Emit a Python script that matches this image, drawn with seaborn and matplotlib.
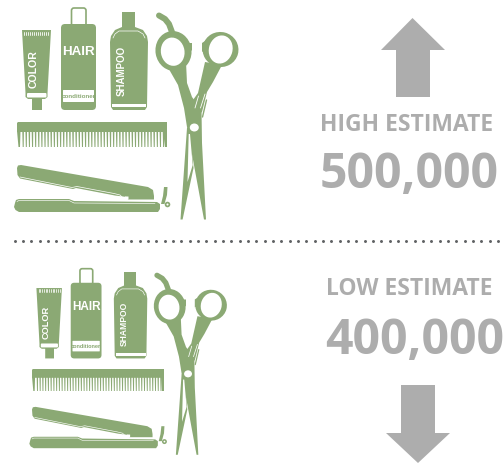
import numpy as np
import pandas as pd
import matplotlib
matplotlib.use("Agg")
import matplotlib.pyplot as plt
from matplotlib.patches import Polygon, Ellipse, FancyBboxPatch
import seaborn as sns

# ------------------------------------------
#                 DATA
# ------------------------------------------
estimate_labels = ["HIGH ESTIMATE", "LOW ESTIMATE"]
estimate_values = [500000, 400000]

GREEN = "#8ba974"
GRAY = "#adadad"
DOT = "#5f6163"

sns.set_theme(style="white")
plt.rcParams["font.family"] = ["Open Sans", "DejaVu Sans"]

fig, ax = plt.subplots(figsize=(5.03, 4.63), dpi=100)
ax.set_position([0, 0, 1, 1])
ax.set_xlim(0, 503)
ax.set_ylim(463, 0)
ax.axis("off")


# ------------------------------------------
#        ICONS (top set pixel outlines)
# ------------------------------------------
def draw_tools(ox, oy, s):
    def P(x, y):
        return (ox + (x - 17) * s, oy + (y - 122) * s)

    def poly(pts, color=GREEN, z=2):
        ax.add_patch(Polygon([P(*p) for p in pts], closed=True, fc=color, ec="none", zorder=z))

    def line(pts, color=GREEN, lw=1.0, z=3):
        q = [P(*p) for p in pts]
        ax.plot([a[0] for a in q], [a[1] for a in q], color=color, lw=lw * s,
                solid_capstyle="round", solid_joinstyle="round", zorder=z)

    def rbox(x0, y0, x1, y1, r, fc=GREEN, ec="none", lw=0, z=2):
        a = P(x0, y0)
        ax.add_patch(FancyBboxPatch((a[0] + r * s, a[1] + r * s), (x1 - x0 - 2 * r) * s, (y1 - y0 - 2 * r) * s,
                                    boxstyle=f"round,pad={r * s}", fc=fc, ec=ec, lw=lw, zorder=z))

    def ell(cx, cy, rx, ry, angle=0, color=GREEN, z=2):
        ax.add_patch(Ellipse(P(cx, cy), 2 * rx * s, 2 * ry * s, angle=angle, fc=color, ec="none", zorder=z))

    def label(x, y, txt, size, rot=0, color="white", weight="bold"):
        a = P(x, y)
        ax.text(a[0], a[1], txt, color=color, fontsize=size * s, rotation=rot, ha="center", va="center",
                family=["Liberation Sans", "DejaVu Sans"], fontweight=weight, zorder=5)

    # colour tube
    poly([(22, 30), (51, 30), (47.5, 93), (47.5, 97), (45, 99), (42, 99), (42, 110), (32, 110), (32, 99),
          (28, 99), (25.5, 97), (25.5, 93)])
    for x in np.arange(24.5, 50, 2):
        line([(x, 31.5), (x, 35)], color="white", lw=0.6)
    rbox(27, 93, 46.5, 97.5, 1, fc="white", z=3)
    label(33.5, 69, "COLOR", 7.6, rot=90)

    # conditioner bottle
    rbox(71.5, 8, 86, 26, 2.5, fc="white", ec=GREEN, lw=1.2, z=1)
    rbox(61, 24, 96, 110, 4)
    rbox(63, 90, 94, 102, 0.5, fc="white", z=3)
    label(78.5, 52, "HAIR", 9.6)
    label(78.5, 96, "conditioner", 4.5, color=GREEN)

    # shampoo bottle
    poly([(122, 12), (135, 12), (135, 28), (122, 28)])
    poly([(122, 27), (135, 27), (143, 30), (147, 36), (148, 42), (147, 107), (145, 110), (113, 110), (111, 107),
          (110, 42), (111, 36), (115, 30)])
    line([(113, 38), (115, 34), (119, 31), (138, 31), (143, 34), (145, 38)], color="white", lw=0.5)
    poly([(112, 103.5), (146, 103.5), (146, 107), (112, 107)], color="white", z=3)
    label(121.5, 71, "SHAMPOO", 7.0, rot=90)

    # comb
    poly([(17, 123), (18, 122), (167, 122), (167, 132), (17, 132)])
    poly([(17, 131), (20.5, 131), (20, 147), (18.5, 147)])
    poly([(163.5, 131), (167, 131), (167, 147), (165, 147)])
    for x in np.arange(22.3, 163, 3.12):
        poly([(x, 131), (x + 1.6, 131), (x + 1.4, 147), (x + 0.4, 147)])

    # flat iron, upper arm
    poly([(17, 168), (18, 165.5), (21, 165), (148, 187), (153, 190), (154, 196), (154, 199.5), (128, 199.5),
          (127, 197), (115, 195.5), (76, 188), (73, 189), (20, 178.5), (17.5, 175)])
    line([(20, 177), (72, 187.5), (77, 186.5), (114, 193.5), (120, 195), (124, 199)], color="white", lw=0.5)
    rbox(125, 196.5, 128.5, 199.5, 0.2, fc="white", z=3)

    # flat iron, lower plate
    poly([(15, 203), (16, 200), (19, 199), (69, 199), (74, 201), (157, 202), (160, 204), (160, 209), (158, 212),
          (19, 212), (15.5, 210), (14, 207)])
    line([(17, 201.5), (19, 200.5), (69, 200.5), (74, 203), (155, 203.5)], color="white", lw=0.45)
    poly([(164, 187), (167.5, 187), (167, 195), (164.5, 204), (161, 204), (163, 196)])
    ell(167.5, 204.5, 2.8, 2.8)
    ell(167.5, 204.5, 1.0, 1.0, color="white", z=3)

    # scissors, ring handles
    line([(159, 15.5), (165, 19), (169, 24), (172, 32)], lw=4.3)
    ell(173.5, 51, 18, 20, angle=-10)
    ell(172.7, 51.7, 11.8, 14.2, angle=-10, color="white", z=3)
    ell(220.5, 49.5, 18, 17.5, angle=15)
    ell(220.7, 49.5, 11.8, 14.2, angle=15, color="white", z=3)
    poly([(189, 43), (192, 43), (192, 50), (189, 53)])
    poly([(202, 43), (205, 41), (205, 50), (202, 52)])

    # scissors, main blade and its arm
    poly([(166, 64), (186, 62), (187, 83), (192, 97), (201.5, 110), (202, 143), (206, 219.5), (204, 219.5),
          (187, 127), (184, 108), (178, 85)])
    # other blade and arm
    poly([(205, 62), (222, 65), (213, 82), (207, 92), (202, 112), (196, 116), (193, 100), (198, 93)])
    line([(198.5, 96), (195, 108)], color="white", lw=0.6)
    line([(205, 94), (200.5, 108)], color="white", lw=0.6)
    line([(206.5, 100), (202.5, 117)], lw=1.0)
    poly([(187, 128), (190, 128), (193.5, 168), (182.6, 219.5), (180.5, 219.5)])
    poly([(188.7, 134), (190, 134), (192.7, 165), (187.5, 182)], color="white", z=3)
    ell(194.3, 127.5, 4.5, 4, color="white", z=3)


draw_tools(17, 122, 1.0)
draw_tools(32, 369, 0.88)

# ------------------------------------------
#         DOTTED DIVIDER
# ------------------------------------------
divider = pd.DataFrame({"x": np.arange(14.7, 503, 8.33)})
divider["y"] = 241
sns.scatterplot(data=divider, x="x", y="y", ax=ax, s=4.5, color=DOT, linewidth=0, legend=False)
ax.set_xlim(0, 503)
ax.set_ylim(463, 0)

# ------------------------------------------
#         ARROWS AND ESTIMATES
# ------------------------------------------
ax.add_patch(Polygon([(412.5, 18), (445, 50), (430, 50), (430, 97), (396, 97), (396, 50), (381, 50)],
                     closed=True, fc=GRAY, ec="none"))
ax.add_patch(Polygon([(401, 385), (435, 385), (435, 433), (450, 433), (418, 463), (386, 433), (401, 433)],
                     closed=True, fc=GRAY, ec="none"))

ax.text(406.5, 131, estimate_labels[0], color=GRAY, fontsize=16.5, fontweight="bold", ha="center", va="baseline")
ax.text(409, 188.5, f"{estimate_values[0]:,}", color=GRAY, fontsize=34.7, fontweight="bold", ha="center", va="baseline")
ax.text(409.5, 295, estimate_labels[1], color=GRAY, fontsize=16.5, fontweight="bold", ha="center", va="baseline")
ax.text(415, 354, f"{estimate_values[1]:,}", color=GRAY, fontsize=34.7, fontweight="bold", ha="center", va="baseline")

sns.despine(ax=ax, left=True, bottom=True)
fig.savefig("out.png", dpi=100, facecolor="white")
